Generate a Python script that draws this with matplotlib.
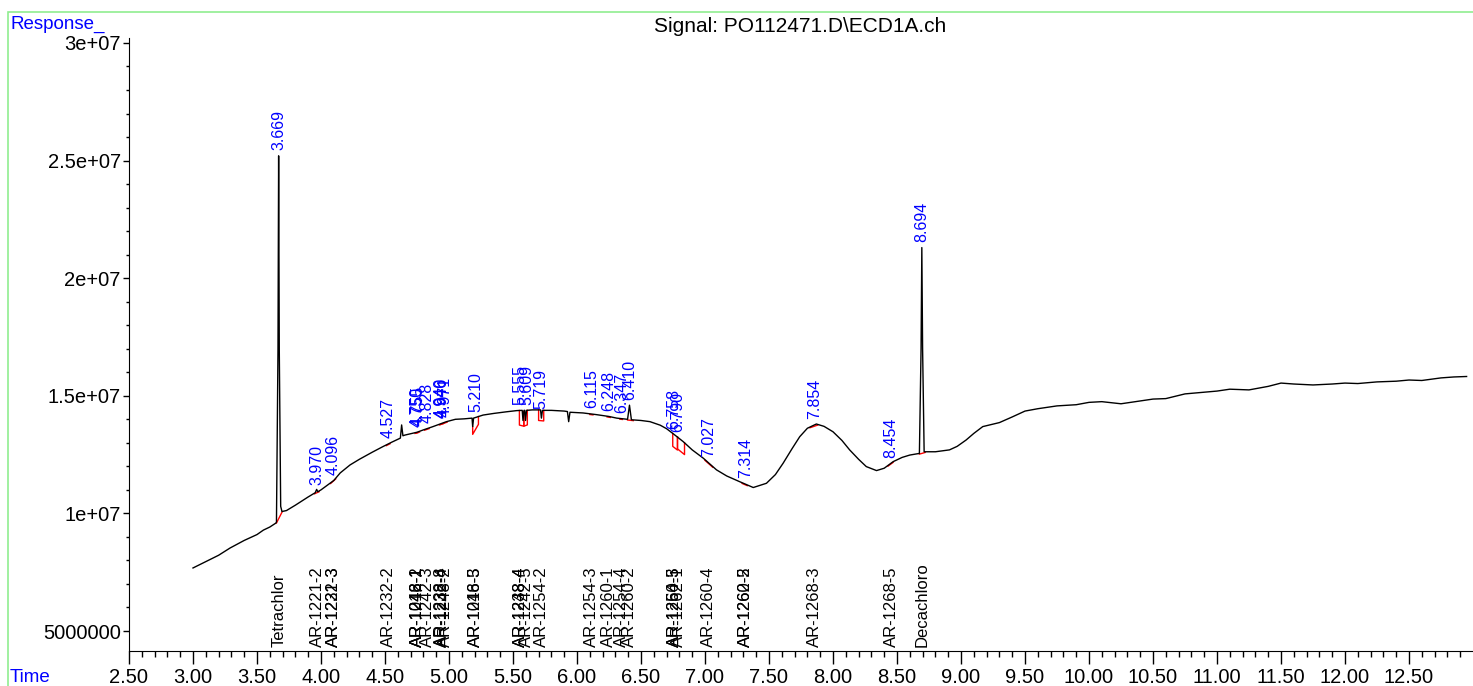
import matplotlib
matplotlib.use("Agg")
import matplotlib.pyplot as plt
from matplotlib.patches import Rectangle
import numpy as np

plt.rcParams['font.family'] = ['Liberation Sans', 'DejaVu Sans']

# chromatogram trace, time (min) and response (x1e6)
trace_time = [3.00, 3.10, 3.20, 3.29, 3.40, 3.50, 3.55, 3.60, 3.645, 3.652,
              3.664, 3.669, 3.674, 3.685, 3.695, 3.73, 3.80, 3.90, 3.955, 3.966,
              3.975, 4.00, 4.10, 4.15, 4.227, 4.30, 4.40, 4.484, 4.55, 4.62,
              4.63, 4.64, 4.656, 4.75, 4.80, 4.875, 4.94, 4.98, 5.05, 5.12,
              5.18, 5.185, 5.192, 5.266, 5.35, 5.45, 5.53, 5.572, 5.578, 5.586,
              5.592, 5.598, 5.606, 5.65, 5.715, 5.722, 5.73, 5.80, 5.90, 5.925,
              5.935, 5.945, 6.047, 6.15, 6.25, 6.31, 6.395, 6.41, 6.425, 6.50,
              6.57, 6.65, 6.70, 6.76, 6.83, 6.90, 6.986, 7.09, 7.17, 7.27,
              7.377, 7.48, 7.55, 7.61, 7.68, 7.74, 7.80, 7.87, 7.93, 8.00,
              8.07, 8.13, 8.20, 8.26, 8.34, 8.40, 8.47, 8.54, 8.60, 8.675,
              8.688, 8.694, 8.700, 8.712, 8.80, 8.91, 8.97, 9.04, 9.10, 9.17,
              9.30, 9.40, 9.50, 9.60, 9.75, 9.90, 10.00, 10.10, 10.25, 10.40,
              10.50, 10.60, 10.75, 10.90, 11.00, 11.10, 11.25, 11.40, 11.50, 11.60,
              11.75, 11.90, 12.00, 12.10, 12.25, 12.40, 12.50, 12.60, 12.75, 12.85,
              12.95]
trace_resp = [7.68, 7.95, 8.22, 8.53, 8.85, 9.10, 9.29, 9.42, 9.58, 9.62,
              17.0, 25.2, 17.0, 10.3, 10.08, 10.12, 10.35, 10.70, 10.88, 11.02,
              10.92, 11.00, 11.40, 11.72, 12.06, 12.30, 12.60, 12.84, 13.02, 13.20,
              13.76, 13.30, 13.33, 13.45, 13.55, 13.69, 13.82, 13.90, 14.00, 14.02,
              14.05, 13.69, 14.05, 14.18, 14.25, 14.32, 14.37, 14.38, 13.95, 14.38,
              14.38, 13.95, 14.38, 14.40, 14.40, 14.05, 14.38, 14.38, 14.35, 14.33,
              13.90, 14.30, 14.27, 14.20, 14.12, 14.05, 14.00, 14.60, 13.98, 13.95,
              13.90, 13.75, 13.60, 13.35, 13.05, 12.70, 12.35, 11.85, 11.59, 11.35,
              11.10, 11.28, 11.65, 12.13, 12.75, 13.26, 13.62, 13.80, 13.70, 13.47,
              13.10, 12.70, 12.30, 11.99, 11.82, 11.92, 12.20, 12.38, 12.48, 12.55,
              17.0, 21.3, 17.0, 12.62, 12.62, 12.70, 12.85, 13.12, 13.40, 13.69,
              13.86, 14.10, 14.35, 14.45, 14.57, 14.62, 14.72, 14.75, 14.66, 14.78,
              14.86, 14.88, 15.08, 15.15, 15.20, 15.28, 15.25, 15.40, 15.54, 15.50,
              15.46, 15.50, 15.54, 15.52, 15.59, 15.62, 15.67, 15.65, 15.76, 15.80,
              15.82]

# integrated peaks
peak_rt = [3.669, 3.970, 4.096, 4.527, 4.750, 4.755, 4.828, 4.940, 4.946, 4.971,
           5.210, 5.555, 5.609, 5.719, 6.115, 6.248, 6.347, 6.410, 6.758, 6.790,
           7.027, 7.314, 7.854, 8.454, 8.694]
base_start = [3.652, 3.950, 4.075, 4.510, 4.735, 4.745, 4.810, 4.925, 4.935, 4.955,
              5.185, 5.550, 5.585, 5.700, 6.100, 6.235, 6.335, 6.395, 6.748, 6.785,
              7.000, 7.290, 7.820, 8.430, 8.675]
base_end = [3.695, 3.985, 4.115, 4.540, 4.760, 4.770, 4.845, 4.950, 4.960, 4.985,
            5.230, 5.585, 5.612, 5.740, 6.125, 6.260, 6.355, 6.440, 6.785, 6.840,
            7.060, 7.330, 7.880, 8.470, 8.720]
# negative peaks drawn as boxes: index into peak list and depth (x1e6)
box_idx = [10, 11, 12, 13, 18, 19]
box_depth = [0.33, 0.62, 0.62, 0.45, 0.55, 0.50]

# compound names at the bottom
cmpd_rt = [3.669, 3.970, 4.096, 4.096, 4.527, 4.750, 4.755, 4.755, 4.828, 4.940,
           4.946, 4.971, 5.210, 5.210, 5.555, 5.555, 5.609, 5.719, 6.115, 6.248,
           6.347, 6.410, 6.758, 6.758, 6.790, 7.027, 7.314, 7.314, 7.854, 8.454,
           8.694]
cmpd_name = ["Tetrachlor", "AR-1221-2", "AR-1232-3", "AR-1221-3", "AR-1232-2",
             "AR-1016-1", "AR-1248-1", "AR-1242-2", "AR-1242-3", "AR-1238-8",
             "AR-1232-4", "AR-1248-2", "AR-1016-5", "AR-1248-3", "AR-1248-4",
             "AR-1238-4", "AR-1242-5", "AR-1254-2", "AR-1254-3", "AR-1260-1",
             "AR-1254-4", "AR-1260-2", "AR-1254-5", "AR-1260-3", "AR-1262-1",
             "AR-1260-4", "AR-1260-5", "AR-1262-2", "AR-1268-3", "AR-1268-5",
             "Decachloro"]

ytick_vals = [5e6, 1e7, 1.5e7, 2e7, 2.5e7, 3e7]
ytick_labels = ["5000000", "1e+07", "1.5e+07", "2e+07", "2.5e+07", "3e+07"]

t = np.array(trace_time)
v = np.array(trace_resp) * 1e6

fig = plt.figure(figsize=(14.73, 6.86), dpi=100)
ax = fig.add_axes([129 / 1473, 1 - 651 / 686, 1 - 129 / 1473, 613 / 686])

ax.plot(t, v, color='black', lw=1.0, zorder=3)

for i, rt in enumerate(peak_rt):
    s, e = base_start[i], base_end[i]
    if i in box_idx:
        d = box_depth[box_idx.index(i)] * 1e6
        ys, ye = np.interp(s, t, v), np.interp(e, t, v)
        ax.plot([s, s, e, e], [ys, ys - d, ye - d, ye], color='red', lw=1.0, zorder=2)
    else:
        ax.plot([s, e], [np.interp(s, t, v) - 3e4, np.interp(e, t, v) - 3e4],
                color='red', lw=1.0, zorder=2)
    ax.annotate(f"{rt:.3f}", (rt, np.interp(rt, t, v)), xytext=(0, 4),
                textcoords='offset points', rotation=90, ha='center', va='bottom',
                color='blue', fontsize=11.5)

for rt, name in zip(cmpd_rt, cmpd_name):
    ax.annotate(name, (rt, 0), xycoords=('data', 'axes fraction'), xytext=(0, 3),
                textcoords='offset points', rotation=90, ha='center', va='bottom',
                color='black', fontsize=12)

ax.set_xlim(2.5, 13.0)
ax.set_ylim(4.15e6, 3.021e7)
ax.set_xticks(np.arange(2.5, 12.51, 0.5))
ax.set_xticklabels([f"{x:.2f}" for x in np.arange(2.5, 12.51, 0.5)])
ax.set_xticks(np.arange(2.5, 13.0, 0.1), minor=True)
ax.set_yticks(ytick_vals)
ax.set_yticklabels(ytick_labels)
ax.set_yticks(np.arange(5e6, 3.01e7, 1e6), minor=True)
ax.tick_params(axis='both', labelsize=14.5, colors='black')
ax.tick_params(axis='x', which='major', length=9, width=1, pad=3)
ax.tick_params(axis='x', which='minor', length=4.5, width=1)
ax.tick_params(axis='y', which='major', length=4, width=1, pad=2)
ax.tick_params(axis='y', which='minor', length=2, width=1)
for sp in ['top', 'right']:
    ax.spines[sp].set_visible(False)
ax.patch.set_alpha(0)

fig.patches.append(Rectangle((8 / 1473, -0.01), 1.0, 1 - 12 / 686 + 0.01,
                             transform=fig.transFigure, fill=False,
                             edgecolor='#90ee90', lw=1.2, zorder=0))
fig.text(10 / 1473, 1 - 24 / 686, "Response_", color='blue', fontsize=13.5,
         va='center', ha='left')
fig.text(10 / 1473, 1 - 678 / 686, "Time", color='blue', fontsize=13.5,
         va='center', ha='left')
fig.text(800 / 1473, 1 - 27 / 686, r"Signal: PO112471.D\ECD1A.ch", color='black',
         fontsize=15, va='center', ha='center')

fig.savefig("out.png", dpi=100)
